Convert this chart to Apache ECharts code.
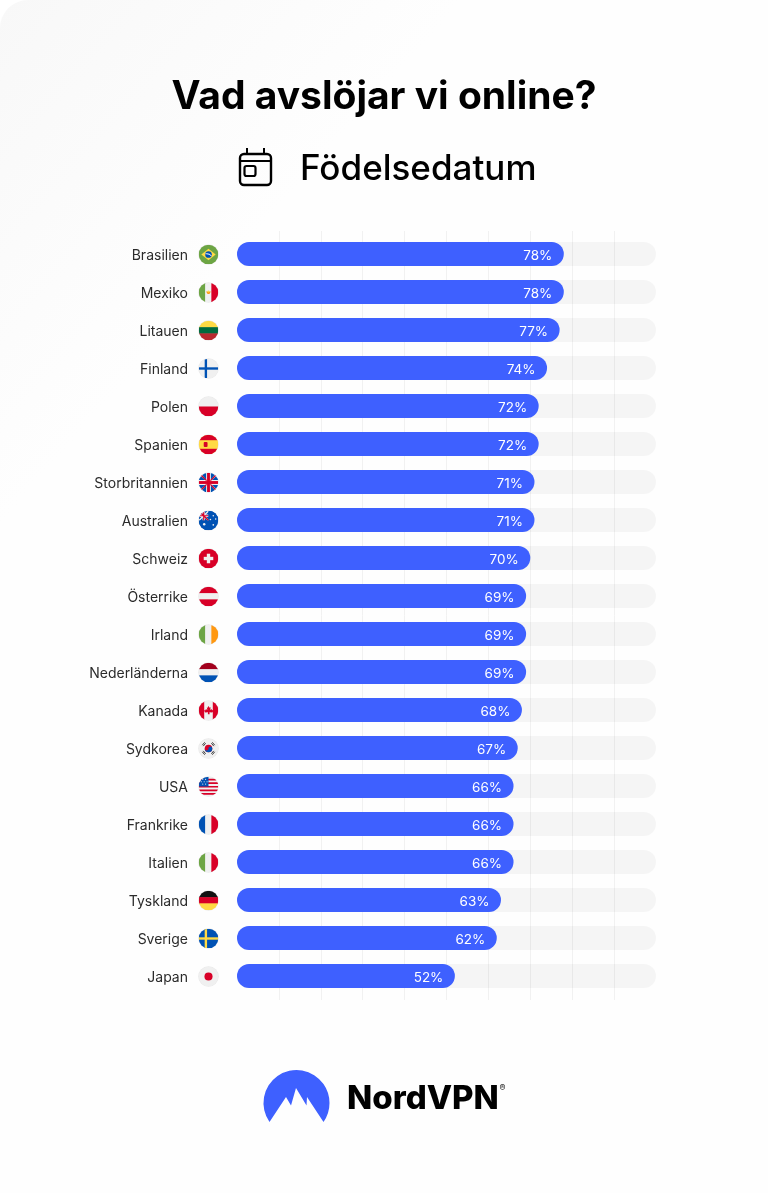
<!DOCTYPE html>
<html><head><meta charset="utf-8">
<style>html,body{margin:0;padding:0;background:#fff}#c{width:768px;height:1193px}</style>
<script src="https://cdn.jsdelivr.net/npm/echarts@6/dist/echarts.min.js"></script>
</head><body><div id="c"></div>
<script>
const categories = ['Brasilien','Mexiko','Litauen','Finland','Polen','Spanien','Storbritannien','Australien','Schweiz','Österrike','Irland','Nederländerna','Kanada','Sydkorea','USA','Frankrike','Italien','Tyskland','Sverige','Japan'];
const values = [78,78,77,74,72,72,71,71,70,69,69,69,68,67,66,66,66,63,62,52];
const titleText = 'Vad avslöjar vi online?';
const subtitleText = 'Födelsedatum';
const brandText = 'NordVPN';

const R='#d80027',W='#f0f0f0',B='#0052b4',G='#6da544',Y='#ffda44';
const hBands=(a,b,c)=>`<rect width="40" height="14" fill="${a}"/><rect y="13" width="40" height="14" fill="${b}"/><rect y="26" width="40" height="14" fill="${c}"/>`;
const vBands=(a,b,c)=>`<rect width="14" height="40" fill="${a}"/><rect x="13" width="14" height="40" fill="${b}"/><rect x="26" width="14" height="40" fill="${c}"/>`;
const nordic=(bg,c)=>`<rect width="40" height="40" fill="${bg}"/><rect x="12" width="5" height="40" fill="${c}"/><rect y="17.5" width="40" height="5" fill="${c}"/>`;
const flagArt = {
 Brasilien:`<rect width="40" height="40" fill="${G}"/><path d="M20 8L35 20L20 32L5 20Z" fill="${Y}"/><circle cx="20" cy="20" r="7" fill="${B}"/><path d="M13.5 18a14 14 0 0 1 13 4l-.6 1.6a14 14 0 0 0-12.8-4z" fill="${W}"/>`,
 Mexiko:vBands(G,W,R)+`<path d="M15 18h10l-3 5h-4z" fill="#ff9811"/><circle cx="20" cy="18" r="2" fill="#ffda44"/>`,
 Litauen:hBands('#ffda44','#006b3e','#b8292f'),
 Finland:nordic(W,B),
 Polen:`<rect width="40" height="20" fill="${W}"/><rect y="20" width="40" height="20" fill="${R}"/>`,
 Spanien:`<rect width="40" height="40" fill="${Y}"/><rect width="40" height="11" fill="${R}"/><rect y="29" width="40" height="11" fill="${R}"/><rect x="10" y="15" width="8" height="10" rx="2" fill="${R}"/>`,
 Storbritannien:`<rect width="40" height="40" fill="${W}"/><path d="M0 3L14 15H0zM3 0L15 14V0zM25 0L37 0L25 14zM40 3V15H27zM0 37V25H14zM3 40L15 26V40zM25 40V26L37 40zM40 37L27 25H40z" fill="${B}"/><path d="M0 0L16 16M40 0L24 16M0 40L16 24M40 40L24 24" stroke="${R}" stroke-width="2.5"/><rect x="17" width="6" height="40" fill="${R}"/><rect y="17" width="40" height="6" fill="${R}"/>`,
 Australien:`<rect width="40" height="40" fill="${B}"/><path d="M0 0L20 20M20 0L0 20" stroke="${W}" stroke-width="3"/><path d="M10 0V20M0 10H20" stroke="${W}" stroke-width="5"/><path d="M10 0V20M0 10H20M0 0L20 20" stroke="${R}" stroke-width="2.5"/><rect x="20" width="20" height="20" fill="${B}"/><rect y="20" width="20" height="20" fill="${B}"/><g fill="${W}"><circle cx="11" cy="28" r="2.6"/><circle cx="30" cy="10" r="1.6"/><circle cx="24" cy="18" r="1.6"/><circle cx="35" cy="17" r="1.6"/><circle cx="30" cy="29" r="1.8"/></g>`,
 Schweiz:`<rect width="40" height="40" fill="${R}"/><rect x="16.5" y="10" width="7" height="20" fill="${W}"/><rect x="10" y="16.5" width="20" height="7" fill="${W}"/>`,
 'Österrike':hBands(R,W,R),
 Irland:vBands(G,W,'#ff9811'),
 'Nederländerna':hBands('#a2001d',W,B),
 Kanada:`<rect width="40" height="40" fill="${W}"/><rect width="11" height="40" fill="${R}"/><rect x="29" width="11" height="40" fill="${R}"/><path d="M20 10l2.2 4 2.3-1-1 6 3-2 .8 2.5 2.7-.5-1 4-1.5 1-5.5-.5.4 4.5h-3.8l.4-4.5-5.5.5-1.5-1-1-4 2.7.5.8-2.5 3 2-1-6 2.3 1z" fill="${R}"/>`,
 Sydkorea:`<rect width="40" height="40" fill="${W}"/><circle cx="20" cy="20" r="8" fill="${R}"/><path d="M12 20a8 8 0 0 0 16 0a4 4 0 0 0-8 0a4 4 0 0 1-8 0z" fill="${B}"/><path d="M7 13l5-6M9 15l5-6M33 13l-5-6M31 15l-5-6M7 27l5 6M9 25l5 6M33 27l-5 6M31 25l-5 6" stroke="#222" stroke-width="1.8"/>`,
 USA:`<rect width="40" height="40" fill="${W}"/><path d="M0 5.5H40M0 13H40M0 20.5H40M0 28H40M0 35.5H40" stroke="${R}" stroke-width="3.6"/><rect width="20" height="20" fill="${B}"/><g fill="${W}"><circle cx="8" cy="5" r="1.2"/><circle cx="14" cy="5" r="1.2"/><circle cx="5" cy="10" r="1.2"/><circle cx="11" cy="10" r="1.2"/><circle cx="17" cy="10" r="1.2"/><circle cx="8" cy="15" r="1.2"/><circle cx="14" cy="15" r="1.2"/></g>`,
 Frankrike:vBands(B,W,R),
 Italien:vBands(G,W,R),
 Tyskland:hBands('#111',R,'#ffda44'),
 Sverige:nordic(B,Y),
 Japan:`<rect width="40" height="40" fill="${W}"/><circle cx="20" cy="20" r="8.5" fill="${R}"/>`
};
const flagUri = n => 'image://data:image/svg+xml;utf8,' + encodeURIComponent(
 `<svg xmlns="http://www.w3.org/2000/svg" width="84" height="84" viewBox="-2 -2 44 44"><defs><clipPath id="k"><circle cx="20" cy="20" r="20.5"/></clipPath></defs><circle cx="20" cy="20" r="21.5" fill="#e9e9e9"/><g clip-path="url(#k)">${flagArt[n]}</g></svg>`);

echarts.graphic.registerShape('brandMark', echarts.graphic.extendPath('M269.5 1122 A33 33 0 1 1 323.5 1122 L307 1097 L306.5 1105.5 L296 1088 L291 1105.5 L286 1097 Z'));

const chart = echarts.init(document.getElementById('c'), null, {renderer:'canvas'});
const font = 'Inter';
chart.setOption({
 backgroundColor:'#fff',
 animation:false,
 title:[
  {text:titleText,left:'center',top:65,textStyle:{fontFamily:font,fontSize:39,fontWeight:700,color:'#000',lineHeight:54}},
  {text:subtitleText,left:295,top:141,textStyle:{fontFamily:font,fontSize:35,fontWeight:500,color:'#000',lineHeight:46}}
 ],
 grid:[
  {left:237,top:235,width:419,height:760,containLabel:false},
  {left:237,top:231,width:419,height:769,containLabel:false}
 ],
 xAxis:[
  {type:'value',gridIndex:0,min:0,max:100,interval:10,show:false,splitLine:{show:false}},
  {type:'value',gridIndex:1,min:0,max:100,interval:10,axisLine:{show:false},axisTick:{show:false},axisLabel:{show:false},
   splitLine:{show:true,showMinLine:false,showMaxLine:false,lineStyle:{color:'#f1f1f1',width:1}}}
 ],
 yAxis:[
  {type:'category',gridIndex:0,data:categories,inverse:true,axisLine:{show:false},axisTick:{show:false},splitLine:{show:false},
   axisLabel:{margin:49,formatter:'{a|{value}}',
    rich:{a:{padding:[3,0,0,0],fontFamily:font,fontSize:14,fontWeight:400,color:'#2b2b2b'}}}},
  {type:'category',gridIndex:1,data:categories,inverse:true,show:false}
 ],
 series:[
  {type:'bar',xAxisIndex:0,yAxisIndex:0,data:values,barWidth:24,z:3,
   itemStyle:{color:'#3e60ff',borderRadius:12},
   showBackground:true,backgroundStyle:{color:'rgba(0,0,0,0.035)',borderRadius:12},
   label:{show:true,position:'insideRight',distance:11.5,offset:[0,1.5],formatter:'{c}%',color:'#fff',fontFamily:font,fontSize:13.5,fontWeight:400}},
  {type:'scatter',xAxisIndex:0,yAxisIndex:0,z:4,silent:true,clip:false,
   itemStyle:{opacity:1},
   data:categories.map(n=>({value:[0,n],symbol:flagUri(n)})),symbolSize:21,symbolOffset:[-28.5,0.5]}
 ],
 graphic:[
  {type:'rect',z:-10,shape:{x:0,y:0,width:768,height:1193,r:[28,0,0,0]},
   style:{fill:new echarts.graphic.LinearGradient(0,0,260,230,[{offset:0,color:'#f8f8f8'},{offset:1,color:'#fefefe'}],true)}},
  {type:'group',z:10,children:[
   {type:'rect',shape:{x:240,y:154,width:31,height:31,r:4},style:{fill:'none',stroke:'#000',lineWidth:2.4}},
   {type:'line',shape:{x1:240,y1:161,x2:271,y2:161},style:{stroke:'#000',lineWidth:2}},
   {type:'line',shape:{x1:247,y1:148,x2:247,y2:154},style:{stroke:'#000',lineWidth:2}},
   {type:'line',shape:{x1:264,y1:148,x2:264,y2:154},style:{stroke:'#000',lineWidth:2}},
   {type:'rect',shape:{x:244.5,y:166,width:11,height:10,r:2},style:{fill:'none',stroke:'#000',lineWidth:2.2}}
  ]},
  {type:'brandMark',z:10,style:{fill:'#3e60ff'}},
  {type:'text',z:10,x:347,y:1083,style:{text:brandText,fontFamily:font,fontSize:33,fontWeight:800,fill:'#000',textVerticalAlign:'top',letterSpacing:-0.5}},
  {type:'text',z:10,x:499.5,y:1084,style:{text:'®',fontFamily:font,fontSize:9,fontWeight:500,fill:'#333'}}
 ]
});
</script></body></html>
